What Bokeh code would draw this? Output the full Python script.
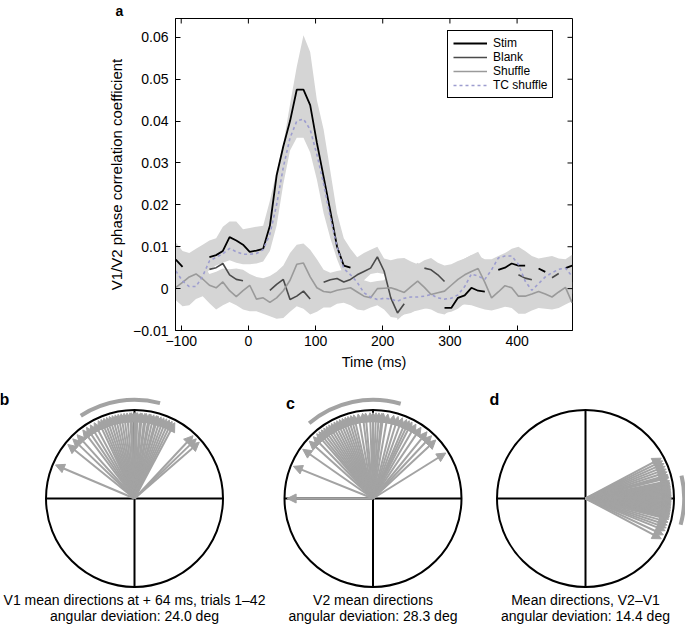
import numpy as np
from bokeh.plotting import figure
from bokeh.models import Range1d, FixedTicker, Label, Arrow, NormalHead, ColumnDataSource, Title
from bokeh.layouts import column, row
from bokeh.embed import file_html
from bokeh.resources import INLINE

NaN = float("nan")

# ---------------- panel a data ----------------
time_ms = [-108, -98, -88, -78, -68, -58, -48, -38, -28, -18, -8, 2, 12, 22, 32, 42, 52, 62, 72, 82,
           92, 102, 112, 122, 132, 142, 152, 162, 172, 182, 192, 202, 212, 222, 232, 242, 252, 262, 272, 282,
           292, 302, 312, 322, 332, 342, 352, 362, 372, 382, 392, 402, 412, 422, 432, 442, 452, 462, 472, 482]

stim = [0.0069, 0.0052, NaN, NaN, NaN, 0.0075, 0.0080, 0.0090, 0.0123, 0.0115, 0.0105, 0.0088, 0.0091, 0.0095, 0.0150, 0.0270, 0.0340, 0.0400, 0.0475, 0.0475,
        0.0438, 0.0348, 0.0267, 0.0185, 0.0100, 0.0055, 0.0050, NaN, NaN, NaN, NaN, NaN, NaN, NaN, NaN, NaN, NaN, NaN, NaN, NaN,
        -0.0046, -0.0046, -0.0022, -0.0016, 0.0002, -0.0005, -0.0007, NaN, 0.0045, 0.0050, 0.0060, 0.0055, 0.0055, NaN, 0.0048, 0.0040, NaN, NaN, 0.0049, 0.0055]

blank = [NaN, NaN, NaN, NaN, NaN, 0.0046, 0.0050, 0.0060, 0.0033, 0.0022, 0.0019, NaN, NaN, NaN, -0.0004, 0.0010, 0.0022, -0.0026, -0.0018, -0.0006,
         -0.0025, NaN, 0.0015, 0.0021, 0.0024, 0.0016, 0.0022, 0.0033, 0.0041, 0.0049, 0.0076, 0.0042, -0.0022, -0.0058, -0.0036, NaN, NaN, 0.0049, 0.0045, 0.0033,
         0.0017, NaN, NaN, NaN, NaN, NaN, NaN, NaN, NaN, NaN, NaN, 0.0033, 0.0025, 0.0021, NaN, NaN, 0.0026, 0.0036, NaN, NaN]

shuffle = [0.0003, 0.0015, 0.0028, 0.0035, 0.0023, 0.0008, 0.0002, 0.0016, -0.0005, -0.0019, -0.0005, 0.0008, -0.0025, -0.0022, -0.0033, -0.0022, -0.0005, 0.0020, 0.0058, 0.0061,
           0.0028, 0.0002, -0.0007, -0.0009, -0.0004, -0.0001, 0.0002, -0.0008, -0.0018, -0.0022, 0.0000, 0.0001, 0.0002, -0.0003, -0.0009, 0.0005, 0.0018, 0.0003, -0.0014, -0.0010,
           -0.0006, 0.0008, 0.0022, 0.0033, 0.0041, 0.0048, 0.0015, -0.0022, -0.0008, 0.0007, 0.0002, -0.0018, -0.0018, -0.0013, -0.0007, -0.0013, -0.0020, -0.0008, 0.0003, -0.0034]

tc_shuffle = [0.0042, 0.0018, 0.0005, 0.0005, 0.0030, 0.0066, 0.0075, 0.0083, 0.0096, 0.0088, 0.0082, 0.0082, 0.0084, 0.0093, 0.0130, 0.0200, 0.0290, 0.0360, 0.0400, 0.0405,
              0.0380, 0.0320, 0.0250, 0.0170, 0.0100, 0.0048, 0.0033, 0.0015, -0.0010, -0.0020, -0.0026, -0.0023, -0.0025, -0.0030, -0.0023, -0.0020, -0.0020, -0.0018, -0.0014, -0.0022,
              -0.0025, -0.0023, -0.0015, 0.0005, 0.0035, 0.0030, 0.0022, 0.0045, 0.0073, 0.0078, 0.0078, 0.0058, 0.0018, -0.0004, 0.0012, 0.0028, 0.0038, 0.0046, 0.0049, 0.0029]

stim_band_lo = [0.0020, -0.0005, -0.0010, 0.0000, 0.0025, 0.0045, 0.0055, 0.0062, 0.0068, 0.0062, 0.0058, 0.0058, 0.0060, 0.0065, 0.0090, 0.0150, 0.0250, 0.0330, 0.0360, 0.0360,
                0.0325, 0.0260, 0.0180, 0.0120, 0.0070, 0.0030, 0.0005, 0.0010, 0.0020, 0.0035, 0.0038, 0.0035, 0.0005, -0.0075, -0.0060, -0.0055, -0.0052, -0.0048, -0.0045, -0.0052,
                -0.0058, -0.0055, -0.0048, -0.0035, -0.0010, -0.0012, -0.0018, 0.0000, 0.0030, 0.0035, 0.0035, 0.0015, -0.0025, -0.0045, -0.0030, -0.0015, -0.0005, 0.0005, 0.0008, -0.0012]
stim_band_hi = [0.0110, 0.0090, 0.0085, 0.0095, 0.0105, 0.0115, 0.0120, 0.0148, 0.0160, 0.0160, 0.0142, 0.0145, 0.0148, 0.0150, 0.0210, 0.0280, 0.0345, 0.0440, 0.0530, 0.0605,
                0.0565, 0.0450, 0.0380, 0.0280, 0.0180, 0.0120, 0.0095, 0.0075, 0.0085, 0.0093, 0.0100, 0.0072, 0.0068, 0.0072, 0.0073, 0.0065, 0.0058, 0.0068, 0.0073, 0.0062,
                0.0055, 0.0058, 0.0066, 0.0072, 0.0080, 0.0078, 0.0070, 0.0070, 0.0078, 0.0085, 0.0095, 0.0100, 0.0090, 0.0078, 0.0072, 0.0075, 0.0078, 0.0072, 0.0070, 0.0081]

shuffle_band_lo = [-0.0028, -0.0042, -0.0040, -0.0025, -0.0018, -0.0035, -0.0050, -0.0040, -0.0032, -0.0040, -0.0050, -0.0054, -0.0054, -0.0060, -0.0066, -0.0072, -0.0070, -0.0055, -0.0042, -0.0048,
                   -0.0062, -0.0055, -0.0045, -0.0045, -0.0036, -0.0034, -0.0040, -0.0050, -0.0052, -0.0045, -0.0040, -0.0050, -0.0068, -0.0070, -0.0062, -0.0058, -0.0050, -0.0046, -0.0050, -0.0058,
                   -0.0062, -0.0050, -0.0040, -0.0038, -0.0040, -0.0045, -0.0050, -0.0052, -0.0048, -0.0043, -0.0046, -0.0060, -0.0060, -0.0052, -0.0046, -0.0048, -0.0050, -0.0046, -0.0038, -0.0030]
shuffle_band_hi = [0.0055, 0.0060, 0.0068, 0.0072, 0.0058, 0.0035, 0.0040, 0.0048, 0.0046, 0.0048, 0.0045, 0.0035, 0.0028, 0.0025, 0.0030, 0.0040, 0.0055, 0.0085, 0.0105, 0.0108,
                   0.0093, 0.0070, 0.0045, 0.0038, 0.0042, 0.0045, 0.0050, 0.0040, 0.0020, 0.0015, 0.0018, 0.0020, 0.0043, 0.0040, 0.0040, 0.0050, 0.0062, 0.0050, 0.0035, 0.0035,
                   0.0040, 0.0050, 0.0062, 0.0072, 0.0080, 0.0088, 0.0060, 0.0025, 0.0035, 0.0050, 0.0045, 0.0028, 0.0028, 0.0032, 0.0038, 0.0035, 0.0030, 0.0038, 0.0045, 0.0015]

x_ticks = [-100, 0, 100, 200, 300, 400]
x_tick_labels = ["\u2212100", "0", "100", "200", "300", "400"]
y_ticks = [-0.01, 0.0, 0.01, 0.02, 0.03, 0.04, 0.05, 0.06]
y_tick_labels = ["\u22120.01", "0", "0.01", "0.02", "0.03", "0.04", "0.05", "0.06"]
y_title = "V1/V2 phase correlation coefficient"
x_title = "Time (ms)"

# ---------------- panels b-d data ----------------
b_angles = [157, 141, 136, 132, 127, 124, 121, 118, 115, 113, 111, 109, 107, 105, 103, 101, 99, 97, 95, 93,
            92, 90, 89, 88, 86, 85, 83, 82, 80, 79, 77, 75, 74, 72, 70, 68, 66, 64, 62, 47, 44, 41]
c_angles = [180, 158, 145, 138, 134, 131, 129, 127, 125, 123, 121, 119, 117, 115, 113, 111, 109, 107, 105, 103,
            100, 97, 95, 92, 90, 88, 86, 84, 83, 80, 76, 73, 70, 67, 65, 63, 60, 56, 51, 47, 43, 32]
d_angles = [28, 26, 24, 22, 20, 18, 16, 15, 14, 12, 11, 10, 9, 8, 7, 6, 5, 4, 3, 2,
            1, 0, -1, -2, -3, -4, -5, -6, -7, -8, -9, -10, -11, -12, -13, -14, -16, -18, -20, -22, -25, -28]
mean_dirs = [99.0, 102.0, -1.0]
ang_devs = [24.0, 28.3, 14.4]
captions = [["V1 mean directions at + 64 ms, trials 1\u201342", "angular deviation: 24.0 deg"],
            ["V2 mean directions", "angular deviation: 28.3 deg"],
            ["Mean directions, V2\u2013V1", "angular deviation: 14.4 deg"]]
letters = ["b", "c", "d"]

FONT = "Liberation Sans"
BAND = "#d5d5d5"
ARROW_GRAY = "#a3a3a3"

# ---------------- panel a ----------------
p = figure(frame_width=397, frame_height=312, min_border_left=175, min_border_right=113,
           min_border_top=17, min_border_bottom=54,
           x_range=Range1d(-108.5, 482.5), y_range=Range1d(-0.01, 0.0645),
           output_backend="svg", toolbar_location=None)
p.title = Title(text="a", align="left", offset=-60, standoff=0, vertical_align="bottom",
                text_font=FONT, text_font_size="14px", text_font_style="bold", text_color="black")
p.xgrid.visible = False
p.ygrid.visible = False
p.outline_line_color = "black"
p.outline_line_alpha = 1.0
p.outline_line_width = 1

t = np.array(time_ms, dtype=float)
p.varea(x=t, y1=np.array(stim_band_lo), y2=np.array(stim_band_hi), fill_color=BAND)
p.varea(x=t, y1=np.array(shuffle_band_lo), y2=np.array(shuffle_band_hi), fill_color=BAND)
p.line(t, np.array(stim, dtype=float), line_color="black", line_width=1.8, legend_label="Stim")
p.line(t, np.array(blank, dtype=float), line_color="#4a4a4a", line_width=1.6, legend_label="Blank")
p.line(t, np.array(shuffle, dtype=float), line_color="#9a9a9a", line_width=1.6, legend_label="Shuffle")
p.line(t, np.array(tc_shuffle, dtype=float), line_color="#9d9dcf", line_width=1.6, line_dash="3 3",
       legend_label="TC shuffle")

# inward ticks on the top and right edges of the box (half of each dash is clipped by the frame)
p.scatter(x=x_ticks, y=[p.y_range.end] * len(x_ticks), marker="dash", angle=np.pi / 2, size=10,
          line_color="black", line_width=1)
p.scatter(x=[p.x_range.end] * len(y_ticks), y=y_ticks, marker="dash", size=10,
          line_color="black", line_width=1)

p.xaxis.ticker = FixedTicker(ticks=x_ticks)
p.yaxis.ticker = FixedTicker(ticks=y_ticks)
p.xaxis.major_label_overrides = dict(zip(x_ticks, x_tick_labels))
p.yaxis.major_label_overrides = dict(zip(y_ticks, y_tick_labels))
for ax in p.xaxis + p.yaxis:
    ax.major_tick_in = 5
    ax.major_tick_out = 0
    ax.minor_tick_in = 0
    ax.minor_tick_out = 0
    ax.axis_line_color = "black"
    ax.major_tick_line_color = "black"
    ax.major_label_text_font = FONT
    ax.major_label_text_font_size = "14px"
    ax.major_label_text_color = "black"
    ax.axis_label_text_font = FONT
    ax.axis_label_text_font_style = "normal"
    ax.axis_label_text_color = "black"
p.xaxis.axis_label = x_title
p.xaxis.axis_label_text_font_size = "14.5px"
p.xaxis.major_label_standoff = 5
p.xaxis.axis_label_standoff = 5
p.yaxis.axis_label = y_title
p.yaxis.axis_label_text_font_size = "15px"
p.yaxis.major_label_standoff = 7
p.yaxis.axis_label_standoff = 5

lg = p.legend[0]
lg.location = (272, 232)
lg.label_text_font = FONT
lg.label_text_font_size = "12px"
lg.label_text_color = "black"
lg.glyph_width = 34
lg.glyph_height = 14
lg.label_height = 14
lg.label_standoff = 6
lg.padding = 5
lg.spacing = 0
lg.margin = 0
lg.border_line_color = "black"
lg.border_line_width = 1
lg.border_line_alpha = 1.0
lg.background_fill_alpha = 1.0

# ---------------- circle panels ----------------
BOT_H = 244
S = 88.5
panel_w = [270, 205, 210]
centers_x = [134.0, 102.5, 110.0]
center_y = 130.0
letter_pos = [(4.0, BOT_H - 15.0), (20.0, BOT_H - 19.0), (19.0, BOT_H - 15.0)]
caption_y = [29.0, 13.0]
L = 0.97


def circle_panel(angles, mean_deg, dev_deg, letter, lines, W, cx, lxy):
    q = figure(width=W, height=BOT_H, title=None, x_range=Range1d(-cx / S, (W - cx) / S),
               y_range=Range1d(-center_y / S, (BOT_H - center_y) / S),
               x_axis_location=None, y_axis_location=None, min_border=0,
               output_backend="svg", toolbar_location=None)
    q.outline_line_color = None
    q.xgrid.visible = False
    q.ygrid.visible = False
    q.segment(x0=[-1, 0], y0=[0, -1], x1=[1, 0], y1=[0, 1], line_color="black", line_width=2)
    q.circle(x=[0], y=[0], radius=1.0, fill_color=None, line_color="black", line_width=2)
    q.arc(x=[0], y=[0], radius=1.115, start_angle=np.radians(mean_deg - dev_deg),
          end_angle=np.radians(mean_deg + dev_deg), line_color=ARROW_GRAY, line_width=4)
    a = np.radians(np.array(angles, dtype=float))
    src = ColumnDataSource(dict(x0=np.zeros(len(a)), y0=np.zeros(len(a)),
                                x1=L * np.cos(a), y1=L * np.sin(a)))
    q.add_layout(Arrow(end=NormalHead(size=9, line_color=ARROW_GRAY, fill_color=ARROW_GRAY, line_width=1),
                       x_start="x0", y_start="y0", x_end="x1", y_end="y1", source=src,
                       line_color=ARROW_GRAY, line_width=2))
    for txt, yb in zip(lines, caption_y):
        q.add_layout(Label(x=0, y=(yb - center_y) / S, text=txt, text_font=FONT, text_font_size="14px",
                           text_align="center", text_baseline="middle", text_color="black"))
    q.add_layout(Label(x=(lxy[0] - cx) / S, y=(lxy[1] - center_y) / S, text=letter, text_font=FONT,
                       text_font_size="16px", text_font_style="bold", text_align="center",
                       text_baseline="middle", text_color="black"))
    return q


panels = [circle_panel(ang, m, d, let, cap, w, cx, lxy)
          for ang, m, d, let, cap, w, cx, lxy in zip([b_angles, c_angles, d_angles], mean_dirs, ang_devs,
                                                      letters, captions, panel_w, centers_x, letter_pos)]

layout = column(p, row(*panels))
open("out.html", "w").write(file_html(layout, INLINE))
